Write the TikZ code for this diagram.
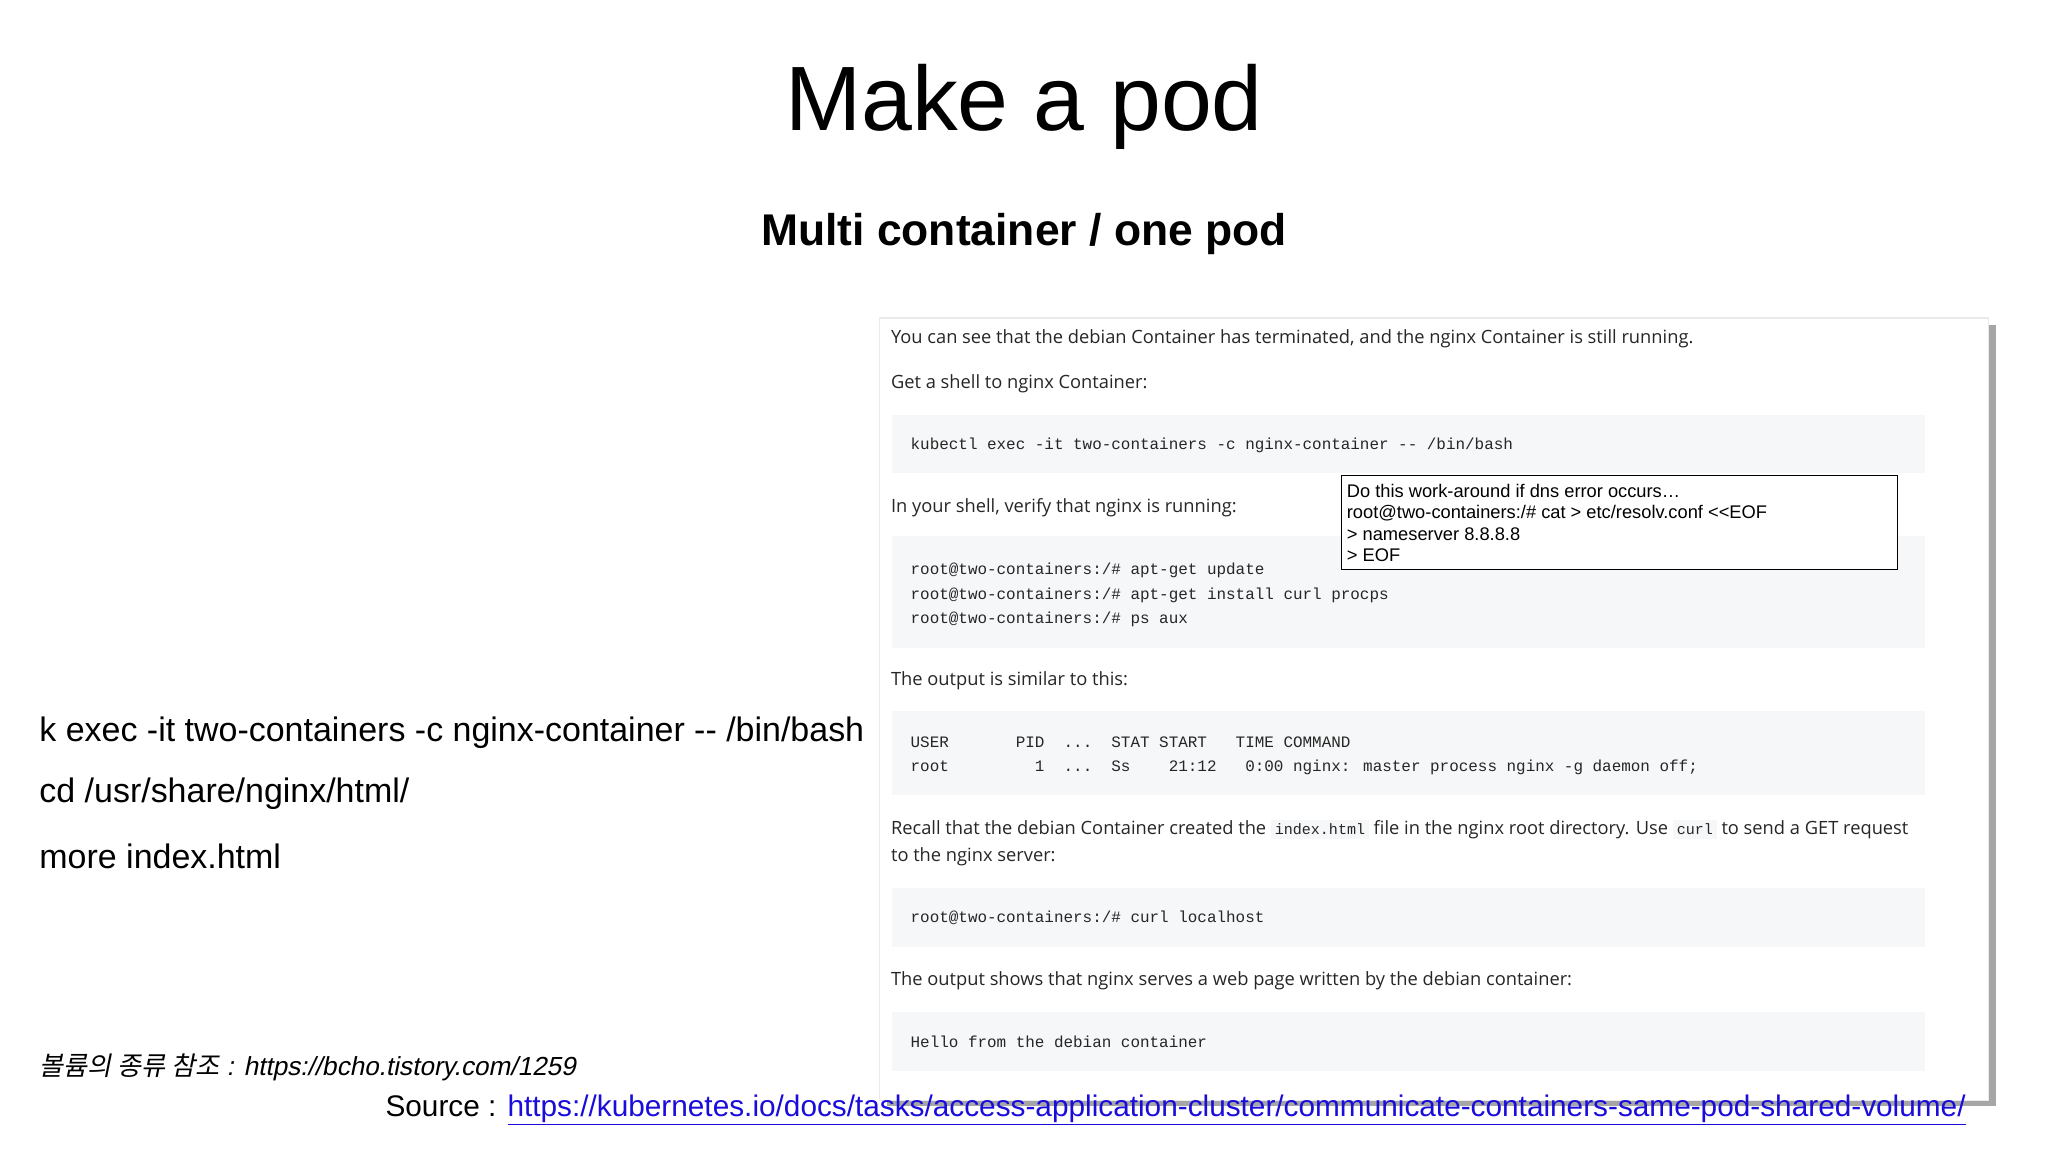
\documentclass[tikz,border=0pt]{standalone}
\usepackage{fontspec}
\setmainfont{Liberation Sans}
\newfontfamily\shot{Open Sans}
\newfontfamily\code{Liberation Mono}
\newfontfamily\kr[FakeSlant=0.2]{Noto Sans CJK KR}
\newfontfamily\sli[FakeSlant=0.2]{Liberation Sans}
\definecolor{codebg}{HTML}{F6F7F8}
\definecolor{linkblue}{HTML}{1A0DDB}
\begin{document}
\begin{tikzpicture}[x=1pt,y=-1pt,
  txt/.style={anchor=west,inner sep=0pt,font=\shot\fontsize{14}{17}\selectfont,text=black!85},
  cd/.style={anchor=west,inner sep=0pt,font=\code\fontsize{12.2}{18.5}\selectfont,text=black!85},
  blk/.style={fill=codebg,draw=none},
  lft/.style={anchor=west,inner sep=0pt,font=\fontsize{26}{30}\selectfont}]
\useasboundingbox (0,0) rectangle (1568,882);
\fill[white] (0,0) rectangle (1568,882);
\node[font=\fontsize{70}{76}\selectfont] (title) at (784,82) {Make a pod};
\node[font=\bfseries\fontsize{34}{40}\selectfont] (sub) at (784,179) {Multi container / one pod};
% screenshot
\fill[black!35] (679,249) rectangle (1528,847);
\fill[black!8] (673,243) rectangle (1523,843);
\fill[white] (674,244) rectangle (1522,842);
\fill[blk] (683,318) rectangle (1474,362);
\fill[blk] (683,410) rectangle (1474,496);
\fill[blk] (683,544) rectangle (1474,609);
\fill[blk] (683,680) rectangle (1474,725);
\fill[blk] (683,775) rectangle (1474,820);
\node[txt] (t1) at (682,259) {You can see that the debian Container has terminated, and the nginx Container is still running.};
\node[txt] (t2) at (682,294) {Get a shell to nginx Container:};
\node[cd] (c1) at (697,341) {kubectl exec -it two-containers -c nginx-container -- /bin/bash};
\node[txt] (t3) at (682,389) {In your shell, verify that nginx is running:};
\node[cd,anchor=north west] (c2) at (697,427) {\begin{tabular}{@{}l@{}}root@two-containers:/\# apt-get update\\root@two-containers:/\# apt-get install curl procps\\root@two-containers:/\# ps aux\end{tabular}};
\node[txt] (t4) at (682,521) {The output is similar to this:};
\node[cd,anchor=north west] (c3) at (697,559) {\begin{tabular}{@{}l@{}}USER\ \ \ \ \ \ \ PID\ \ ...\ \ STAT START\ \ \ TIME COMMAND\\root\ \ \ \ \ \ \ \ \ 1\ \ ...\ \ Ss\ \ \ \ 21:12\ \ \ 0:00 nginx: master process nginx -g daemon off;\end{tabular}};
\node[txt] (t5) at (682,635) {Recall that the debian Container created the \colorbox{codebg}{\code\fontsize{11.5}{13}\selectfont index.html} file in the nginx root directory. Use \colorbox{codebg}{\code\fontsize{11.5}{13}\selectfont curl} to send a GET request};
\node[txt] (t6) at (682,656) {to the nginx server:};
\node[cd] (c4) at (697,703) {root@two-containers:/\# curl localhost};
\node[txt] (t7) at (682,751) {The output shows that nginx serves a web page written by the debian container:};
\node[cd] (c5) at (697,798) {Hello from the debian container};
% callout
\draw[black,line width=0.9pt,fill=white] (1027,364) rectangle (1453,436);
\node[anchor=north west,inner sep=0pt,font=\fontsize{14}{16.5}\selectfont] (call) at (1031,369) {\begin{tabular}{@{}l@{}}Do this work-around if dns error occurs\ldots\\root@two-containers:/\# cat > etc/resolv.conf {<}{<}EOF\\> nameserver 8.8.8.8\\> EOF\end{tabular}};
% left
\node[lft] (l1) at (30,561) {k exec -it two-containers -c nginx-container {-}{-} /bin/bash};
\node[lft] (l2) at (30,608) {cd /usr/share/nginx/html/};
\node[lft] (l3) at (30,656) {more index.html};
\node[anchor=west,inner sep=0pt,font=\fontsize{20}{24}\selectfont] (kr) at (30,817) {{\kr 볼륨의 종류 참조} {\sli : https://bcho.tistory.com/1259}};
\node[anchor=west,inner sep=0pt,font=\fontsize{22.8}{27}\selectfont] (src) at (295,850) {Source : \textcolor{linkblue}{\underline{https://kubernetes.io/docs/tasks/access-application-cluster/communicate-containers-same-pod-shared-volume/}}};
\end{tikzpicture}
\end{document}
